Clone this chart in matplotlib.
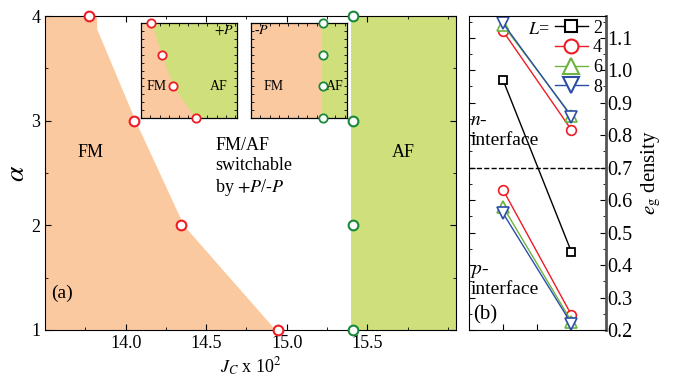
import matplotlib
matplotlib.use("Agg")
import matplotlib.pyplot as plt
from matplotlib.ticker import MultipleLocator, NullFormatter
from matplotlib.lines import Line2D

plt.rcParams['font.family'] = ['Liberation Serif', 'DejaVu Serif']
plt.rcParams['mathtext.fontset'] = 'stix'

# --- panel (a): phase boundaries ---
alpha_pts = [4, 3, 2, 1]
jc_fm = [13.77, 14.05, 14.345, 14.945]     # FM boundary (red circles)
jc_af = [15.41, 15.41, 15.41, 15.41]       # AF boundary (green circles)
# shaded FM polygon edge (slightly right of the markers)
fm_edge_jc = [13.82, 13.82, 14.06, 14.36, 14.93]
fm_edge_alpha = [4.0, 3.88, 3.0, 2.0, 1.0]
af_edge = 15.40

# --- panel (b): e_g density ---
xcat = [1, 2]
L2 = [0.969, 0.44]
L4_n = [1.12, 0.816]
L4_p = [0.631, 0.246]
L6_n = [1.139, 0.86]
L6_p = [0.579, 0.226]
L8_n = [1.144, 0.857]
L8_p = [0.559, 0.219]

orange = '#FAC9A0'
green = '#CEDF7C'
red = '#EE1C25'
dgreen = '#1A8A3A'
lgreen = '#6CB33F'
blue = '#2B4FA8'

fig = plt.figure(figsize=(6.74, 3.81), dpi=100)

ax = fig.add_axes([0.0668, 0.1339, 0.6098, 0.8241])
xmin, xmax = 13.5, 16.05
ax.fill_betweenx(fm_edge_alpha, xmin, fm_edge_jc, color=orange, lw=0)
ax.axvspan(af_edge, xmax, color=green, lw=0)
ax.plot(jc_fm, alpha_pts, 'o', ms=7, mfc='white', mec=red, mew=1.5, clip_on=False, zorder=5)
ax.plot(jc_af, alpha_pts, 'o', ms=7, mfc='white', mec=dgreen, mew=1.5, clip_on=False, zorder=5)
ax.set_xlim(xmin, xmax)
ax.set_ylim(1, 4)
ax.set_xticks([14.0, 14.5, 15.0, 15.5])
ax.xaxis.set_minor_locator(MultipleLocator(0.25))
ax.set_yticks([1, 2, 3, 4])
ax.yaxis.set_minor_locator(MultipleLocator(0.5))
ax.tick_params(which='both', direction='in', top=True, right=True, labelsize=13)
ax.tick_params(which='major', length=4)
ax.tick_params(which='minor', length=2)
ax.set_xlabel(r'$J_C$ x 10$^2$', fontsize=13, labelpad=3)
ax.set_ylabel(r'$\alpha$', fontsize=20, labelpad=1)
ax.text(13.78, 2.7, 'FM', fontsize=13, ha='center', va='center')
ax.text(15.72, 2.7, 'AF', fontsize=13, ha='center', va='center')
ax.text(14.555, 2.55, 'FM/AF\nswitchable\nby $+P$/-$P$', fontsize=13, ha='left',
        va='center', linespacing=1.2)
ax.text(13.54, 1.35, '(a)', fontsize=14, ha='left', va='center')


def inset(rect, sign):
    ins = fig.add_axes(rect)
    if sign == '+':
        ins.axvspan(xmin, xmax, color=green, lw=0)
        ins.fill_betweenx(alpha_pts, xmin, jc_fm, color=orange, lw=0)
        ins.plot(jc_fm, alpha_pts, 'o', ms=6, mfc='white', mec=red, mew=1.3,
                 clip_on=False, zorder=5)
        ins.text(13.9, 2.0, 'FM', fontsize=10, ha='center', va='center')
        ins.text(15.55, 2.0, 'AF', fontsize=10, ha='center', va='center')
        ins.text(15.95, 3.75, '$+P$', fontsize=10, ha='right', va='center')
    else:
        ins.axvspan(xmin, af_edge, color=orange, lw=0)
        ins.axvspan(af_edge, xmax, color=green, lw=0)
        ins.plot(jc_af, alpha_pts, 'o', ms=6, mfc='white', mec=dgreen, mew=1.3,
                 clip_on=False, zorder=5)
        ins.text(14.1, 2.0, 'FM', fontsize=10, ha='center', va='center')
        ins.text(15.72, 2.0, 'AF', fontsize=10, ha='center', va='center')
        ins.text(13.6, 3.75, '-$P$', fontsize=10, ha='left', va='center')
    ins.set_xlim(xmin, xmax)
    ins.set_ylim(1, 4)
    ins.xaxis.set_major_locator(MultipleLocator(0.5))
    ins.xaxis.set_minor_locator(MultipleLocator(0.25))
    ins.yaxis.set_major_locator(MultipleLocator(0.5))
    ins.yaxis.set_minor_locator(MultipleLocator(0.25))
    ins.tick_params(which='both', direction='in', top=True, right=True,
                    labelbottom=False, labelleft=False, length=2, width=0.6)
    for s in ins.spines.values():
        s.set_linewidth(0.9)


inset([0.2092, 0.6895, 0.1429, 0.2509], '+')
inset([0.372, 0.6895, 0.1424, 0.2509], '-')

# --- panel (b) ---
bx = fig.add_axes([0.6958, 0.1339, 0.2028, 0.8241])
bx.plot(xcat, L2, 's-', color='black', ms=6, mfc='white', mew=1.3, lw=1)
bx.plot(xcat, L4_n, 'o-', color=red, ms=7, mfc='white', mew=1.2, lw=1)
bx.plot(xcat, L4_p, 'o-', color=red, ms=7, mfc='white', mew=1.2, lw=1)
bx.plot(xcat, L6_n, '^-', color=lgreen, ms=8, mfc='white', mew=1.2, lw=1)
bx.plot(xcat, L6_p, '^-', color=lgreen, ms=8, mfc='white', mew=1.2, lw=1)
bx.plot(xcat, L8_n, 'v-', color=blue, ms=8, mfc='white', mew=1.2, lw=1)
bx.plot(xcat, L8_p, 'v-', color=blue, ms=8, mfc='white', mew=1.2, lw=1)
bx.axhline(0.7, color='black', ls='--', lw=1)
bx.set_xlim(0.5, 2.5)
bx.set_ylim(0.2, 1.167)
bx.set_xticks([1, 1.5, 2])
bx.xaxis.set_major_formatter(NullFormatter())
bx.yaxis.set_major_locator(MultipleLocator(0.1))
bx.yaxis.set_minor_locator(MultipleLocator(0.05))
bx.yaxis.tick_right()
bx.tick_params(which='both', direction='in', left=True, right=True, labelsize=14.5,
               pad=1)
bx.tick_params(which='major', length=4)
bx.tick_params(which='minor', length=2)
bx.spines['right'].set_linewidth(2)
bx.spines['right'].set_color('#555555')
bx.yaxis.set_label_position('right')
bx.set_ylabel(r'$e_{\rm g}$ density', fontsize=15, labelpad=5)
bx.text(0.52, 0.814, '$n$-\ninterface', fontsize=14, ha='left', va='center',
        linespacing=1.25)
bx.text(0.52, 0.353, '$p$-\ninterface', fontsize=14, ha='left', va='center',
        linespacing=1.1)
bx.text(0.56, 0.247, '(b)', fontsize=15, ha='left', va='center')

handles = [
    Line2D([], [], color='black', marker='s', ms=9, mfc='white', mew=1.5, lw=1),
    Line2D([], [], color=red, marker='o', ms=10, mfc='white', mew=1.5, lw=1),
    Line2D([], [], color=lgreen, marker='^', ms=11, mfc='white', mew=1.5, lw=1),
    Line2D([], [], color=blue, marker='v', ms=11, mfc='white', mew=1.5, lw=1),
]
bx.legend(handles, ['2', '4', '6', '8'], loc='upper right', bbox_to_anchor=(1.0, 1.0),
          frameon=False, fontsize=13, handlelength=1.8, handletextpad=0.3,
          labelspacing=0.15, borderaxespad=0.1, borderpad=0.1)
bx.text(1.68, 1.125, '$L$=', fontsize=13, ha='right', va='center')

fig.savefig('out.png', dpi=100)
